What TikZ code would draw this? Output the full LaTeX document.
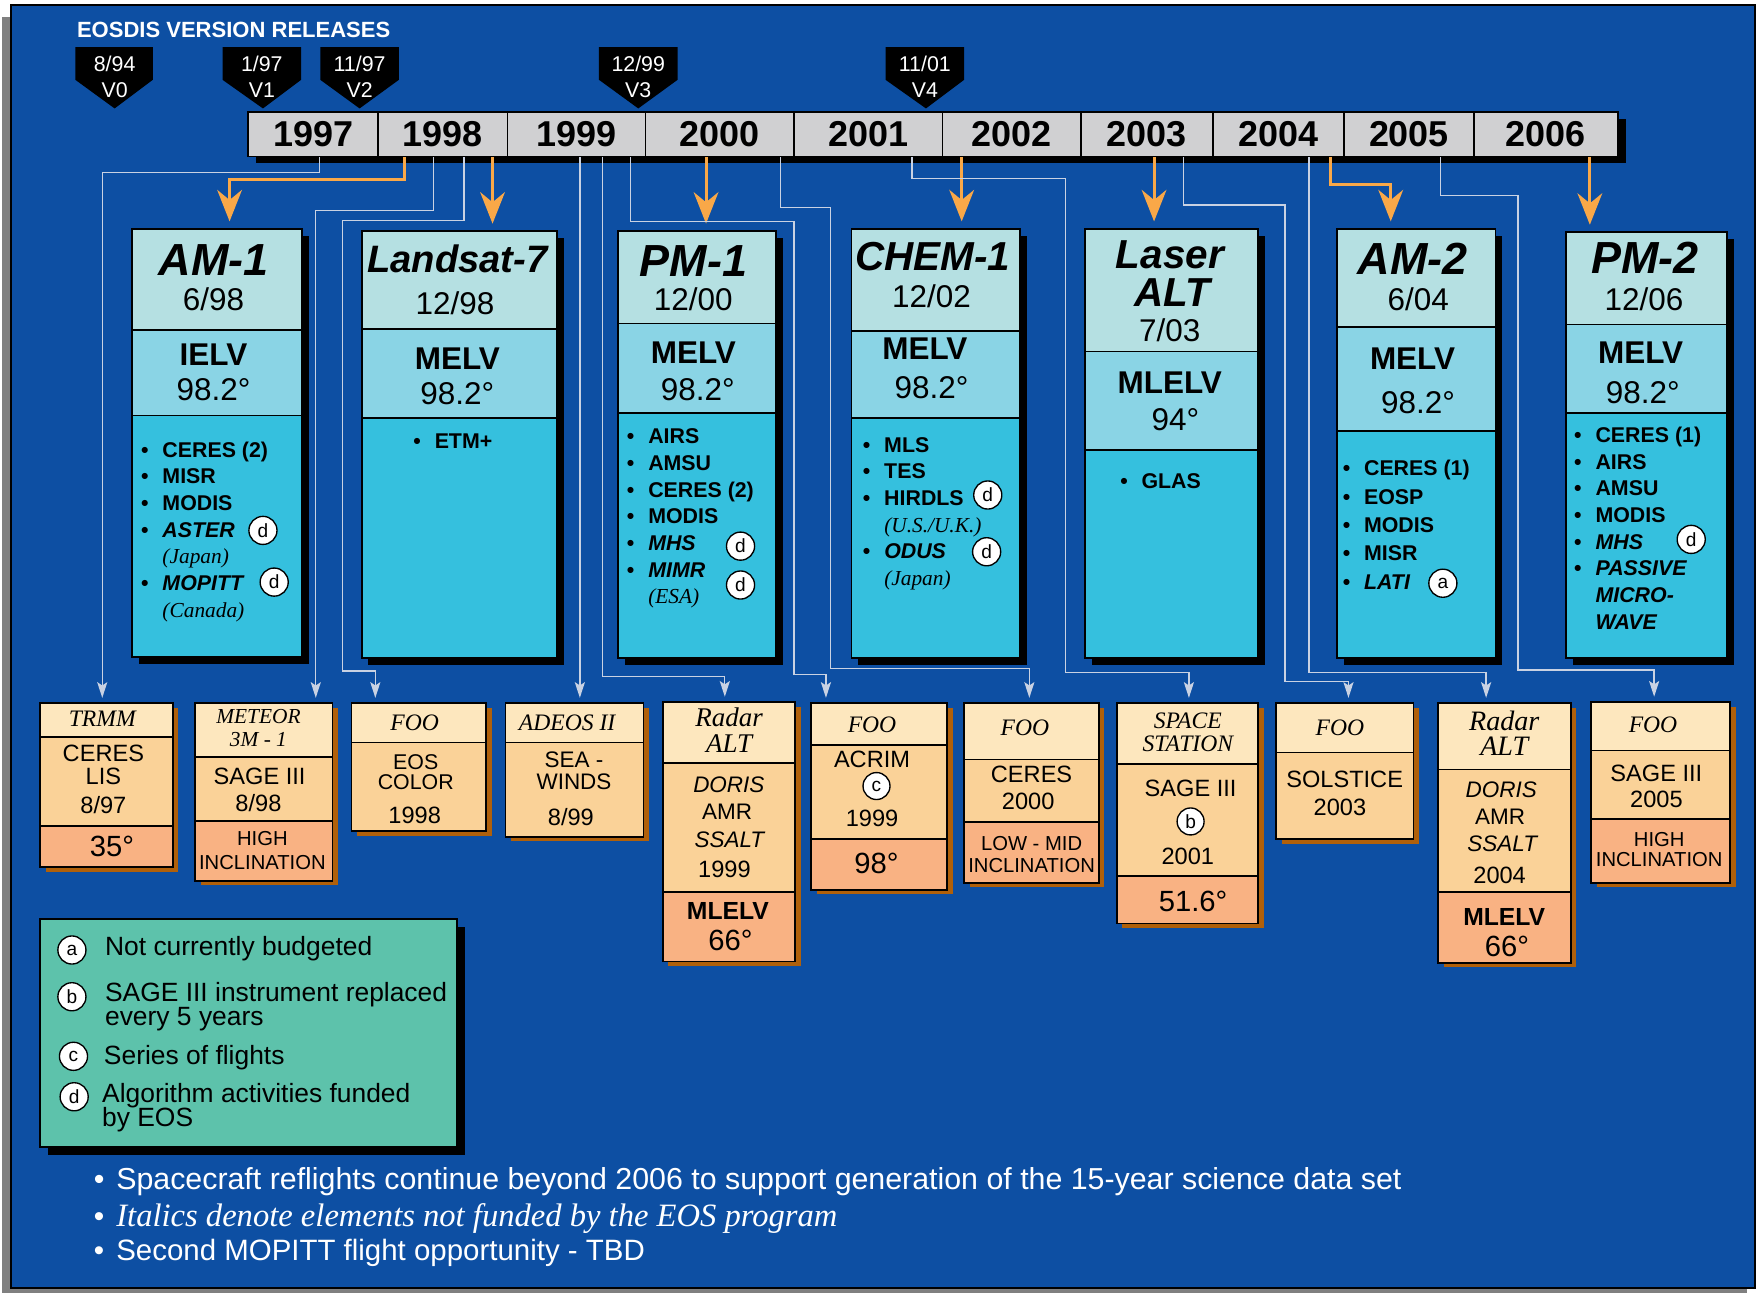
\documentclass[tikz,border=0pt]{standalone}
\usepackage{fontspec}
\setmainfont{Liberation Sans}
\newfontfamily\tms{Liberation Serif}
\usepackage{tikz}
\usetikzlibrary{arrows.meta, shadows}

\definecolor{bgblue}{RGB}{13,79,163}
\definecolor{bargrey}{RGB}{208,208,210}
\definecolor{sattop}{RGB}{181,224,226}
\definecolor{satmid}{RGB}{138,212,229}
\definecolor{satlow}{RGB}{53,192,222}
\definecolor{pltop}{RGB}{253,231,190}
\definecolor{plmid}{RGB}{250,210,152}
\definecolor{pllow}{RGB}{249,178,131}
\definecolor{plshade}{RGB}{176,96,10}
\definecolor{legfill}{RGB}{93,194,171}
\definecolor{orng}{RGB}{249,168,72}
\definecolor{feedline}{RGB}{201,210,227}
\definecolor{framegrey}{RGB}{128,128,128}

\newcommand{\fsz}[2]{\fontsize{#1}{#2}\selectfont}
\newcommand{\bitem}{\makebox[19pt][l]{\textbullet}}
\newcommand{\bskip}{\hspace*{19pt}}

\begin{document}
\begin{tikzpicture}[x=1pt, y=-1pt,
    yearcell/.style={draw, line width=1.5pt, fill=bargrey, anchor=north west, minimum height=39.5pt, inner sep=0pt, font=\bfseries\fsz{32}{32}, drop shadow={shadow xshift=7pt, shadow yshift=-6pt, fill=black, opacity=1}},
    release/.style={text=white, align=center, font=\fsz{19}{23}},
    satsec/.style={draw, line width=1.6pt, anchor=north west, inner sep=0pt, drop shadow={shadow xshift=6pt, shadow yshift=-6pt, fill=black, opacity=1}},
    sattitle/.style={font=\bfseries\itshape\fsz{40}{40}},
    satdate/.style={font=\fsz{28}{28}},
    satlv/.style={font=\bfseries\fsz{28}{28}},
    instr/.style={anchor=north west, align=left, inner sep=0pt, font=\bfseries\fsz{19}{23.7}},
    plsec/.style={draw, line width=1.5pt, anchor=north west, inner sep=0pt, drop shadow={shadow xshift=5pt, shadow yshift=-4pt, fill=plshade, opacity=1}},
    pltitle/.style={font=\tms\itshape\fsz{21}{21}},
    pltext/.style={font=\fsz{21}{21}},
    plsmall/.style={font=\fsz{18}{18}},
    pldeg/.style={font=\fsz{26}{26}},
    note/.style={circle, draw, fill=white, line width=1.2pt, minimum size=25pt, inner sep=0pt, font=\fsz{17}{17}},
    launch/.style={draw=orng, line width=2.7pt, -{Stealth[length=28pt, width=22pt, inset=9pt]}, shorten >=6pt},
    feed/.style={draw=feedline, line width=1.2pt, -{Stealth[length=14pt, width=9pt, inset=3pt]}, shorten >=4pt},
    legtext/.style={anchor=west, align=left, font=\fsz{23.5}{22}},
    remark/.style={anchor=west, text=white, font=\fsz{26.5}{26.5}}]

    \useasboundingbox (0,0) rectangle (1568,1151);
    \fill[framegrey] (2,15) rectangle (1555,1151);
    \draw[fill=bgblue, line width=1.5pt] (10,4.5) rectangle (1562,1146);

    \node[anchor=west, text=white, font=\bfseries\fsz{19.6}{19.6}] (head) at (65,27) {EOSDIS VERSION RELEASES};

    \fill (67,42) -- (136,42) -- (136,71) -- (102,96.5) -- (67,71) -- cycle;
    \fill (198,42) -- (268,42) -- (268,71) -- (234,96.5) -- (198,71) -- cycle;
    \fill (285,42) -- (355,42) -- (355,71) -- (320,96.5) -- (285,71) -- cycle;
    \fill (533,42) -- (603,42) -- (603,71) -- (568,96.5) -- (533,71) -- cycle;
    \fill (788,42) -- (858,42) -- (858,71) -- (824,96.5) -- (788,71) -- cycle;
    \node[release] (rel0) at (102,68.5) {8/94\\V0};
    \node[release] (rel1) at (233,68.5) {1/97\\V1};
    \node[release] (rel2) at (320,68.5) {11/97\\V2};
    \node[release] (rel3) at (568,68.5) {12/99\\V3};
    \node[release] (rel4) at (823,68.5) {11/01\\V4};

    \node[yearcell, minimum width=115.6pt] (y1997) at (220,99) {1997};
    \node[yearcell, minimum width=115.4pt] (y1998) at (335.6,99) {1998};
    \node[yearcell, minimum width=122.7pt] (y1999) at (451,99) {1999};
    \node[yearcell, minimum width=132.3pt] (y2000) at (573.7,99) {2000};
    \node[yearcell, minimum width=132pt] (y2001) at (706,99) {2001};
    \node[yearcell, minimum width=123pt] (y2002) at (838,99) {2002};
    \node[yearcell, minimum width=117.4pt] (y2003) at (961,99) {2003};
    \node[yearcell, minimum width=116.6pt] (y2004) at (1078.4,99) {2004};
    \node[yearcell, minimum width=116.2pt] (y2005) at (1195,99) {2005};
    \node[yearcell, minimum width=127.6pt] (y2006) at (1311.2,99) {2006};

    \node[satsec, fill=sattop, minimum width=151pt, minimum height=90pt] (am1) at (117,203) {};
    \node[satsec, fill=satmid, minimum width=151pt, minimum height=76pt] (am1lv) at (117,293) {};
    \node[satsec, fill=satlow, minimum width=151pt, minimum height=215pt] (am1in) at (117,369) {};
    \node[sattitle] (am1name) at (190,231) {AM-1};
    \node[satdate] (am1date) at (190,266) {6/98};
    \node[satlv] (am1rkt) at (190,316) {IELV};
    \node[satdate] (am1inc) at (190,347) {98.2°};
    \node[instr] (am1list) at (125.4,393) {\bitem CERES (2)\\ \bitem MISR\\ \bitem MODIS\\ \bitem\textit{ASTER}\\ \bskip{\tms\mdseries\itshape (Japan)}\\ \bitem\textit{MOPITT}\\ \bskip{\tms\mdseries\itshape (Canada)}};
    \node[note] (am1d1) at (234,472) {d};
    \node[note] (am1d2) at (244,518) {d};

    \node[satsec, fill=sattop, minimum width=174pt, minimum height=87pt] (ls7) at (321,205) {};
    \node[satsec, fill=satmid, minimum width=174pt, minimum height=79pt] (ls7lv) at (321,292) {};
    \node[satsec, fill=satlow, minimum width=174pt, minimum height=214pt] (ls7in) at (321,371) {};
    \node[sattitle, font=\bfseries\itshape\fsz{34}{34}] (ls7name) at (407,230) {Landsat-7};
    \node[satdate] (ls7date) at (405,270) {12/98};
    \node[satlv] (ls7rkt) at (407,319) {MELV};
    \node[satdate] (ls7inc) at (407,350) {98.2°};
    \node[instr] (ls7list) at (367.7,386) {\bitem ETM+};

    \node[satsec, fill=sattop, minimum width=141pt, minimum height=82pt] (pm1) at (549,205) {};
    \node[satsec, fill=satmid, minimum width=141pt, minimum height=80pt] (pm1lv) at (549,287) {};
    \node[satsec, fill=satlow, minimum width=141pt, minimum height=218pt] (pm1in) at (549,367) {};
    \node[sattitle] (pm1name) at (617,232) {PM-1};
    \node[satdate] (pm1date) at (617,266) {12/00};
    \node[satlv] (pm1rkt) at (617,314) {MELV};
    \node[satdate] (pm1inc) at (621,347) {98.2°};
    \node[instr] (pm1list) at (557.7,381.5) {\bitem AIRS\\ \bitem AMSU\\ \bitem CERES (2)\\ \bitem MODIS\\ \bitem\textit{MHS}\\ \bitem\textit{MIMR}\\ \bskip{\tms\mdseries\itshape (ESA)}};
    \node[note] (pm1d1) at (659,486) {d};
    \node[note] (pm1d2) at (659,520.6) {d};

    \node[satsec, fill=sattop, minimum width=150pt, minimum height=91pt] (chem) at (757,203) {};
    \node[satsec, fill=satmid, minimum width=150pt, minimum height=77pt] (chemlv) at (757,294) {};
    \node[satsec, fill=satlow, minimum width=150pt, minimum height=214pt] (chemin) at (757,371) {};
    \node[sattitle, font=\bfseries\itshape\fsz{36}{36}] (chemname) at (830,228.5) {CHEM-1};
    \node[satdate] (chemdate) at (829,264) {12/02};
    \node[satlv] (chemrkt) at (823,310) {MELV};
    \node[satdate] (cheminc) at (829,345) {98.2°};
    \node[instr] (chemlist) at (767.7,389) {\bitem MLS\\ \bitem TES\\ \bitem HIRDLS\\ \bskip{\tms\mdseries\itshape (U.S./U.K.)}\\ \bitem\textit{ODUS}\\ \bskip{\tms\mdseries\itshape (Japan)}};
    \node[note] (chemd1) at (879,440.5) {d};
    \node[note] (chemd2) at (878,491) {d};

    \node[satsec, fill=sattop, minimum width=154pt, minimum height=109pt] (laser) at (965,203) {};
    \node[satsec, fill=satmid, minimum width=154pt, minimum height=88pt] (laserlv) at (965,312) {};
    \node[satsec, fill=satlow, minimum width=154pt, minimum height=185pt] (laserin) at (965,400) {};
    \node[sattitle, font=\bfseries\itshape\fsz{36}{36}] (lasername) at (1041,227) {Laser};
    \node[sattitle, font=\bfseries\itshape\fsz{36}{36}] (laseralt) at (1043,260) {ALT};
    \node[satdate] (laserdate) at (1041,293.7) {7/03};
    \node[satlv] (laserrkt) at (1041,340.5) {MLELV};
    \node[satdate] (laserinc) at (1046,373.5) {94°};
    \node[instr] (laserlist) at (996.7,421) {\bitem GLAS};

    \node[satsec, fill=sattop, minimum width=141pt, minimum height=87pt] (am2) at (1189,203) {};
    \node[satsec, fill=satmid, minimum width=141pt, minimum height=93pt] (am2lv) at (1189,290) {};
    \node[satsec, fill=satlow, minimum width=141pt, minimum height=202pt] (am2in) at (1189,383) {};
    \node[sattitle] (am2name) at (1257,230) {AM-2};
    \node[satdate] (am2date) at (1262,266) {6/04};
    \node[satlv] (am2rkt) at (1257,319) {MELV};
    \node[satdate] (am2inc) at (1262,358.6) {98.2°};
    \node[instr, font=\bfseries\fsz{19}{25.2}] (am2list) at (1194.7,409.6) {\bitem CERES (1)\\ \bitem EOSP\\ \bitem MODIS\\ \bitem MISR\\ \bitem\textit{LATI}};
    \node[note] (am2a) at (1284,519) {a};

    \node[satsec, fill=sattop, minimum width=143pt, minimum height=82pt] (pm2) at (1393,206) {};
    \node[satsec, fill=satmid, minimum width=143pt, minimum height=79pt] (pm2lv) at (1393,288) {};
    \node[satsec, fill=satlow, minimum width=143pt, minimum height=218pt] (pm2in) at (1393,367) {};
    \node[sattitle] (pm2name) at (1464,229.6) {PM-2};
    \node[satdate] (pm2date) at (1463,266) {12/06};
    \node[satlv] (pm2rkt) at (1460,314) {MELV};
    \node[satdate] (pm2inc) at (1462,349) {98.2°};
    \node[instr] (pm2list) at (1400.7,380) {\bitem CERES (1)\\ \bitem AIRS\\ \bitem AMSU\\ \bitem MODIS\\ \bitem\textit{MHS}\\ \bitem\textit{PASSIVE}\\ \bskip\textit{MICRO-}\\ \bskip\textit{WAVE}};
    \node[note] (pm2d) at (1505,480) {d};

    \node[plsec, fill=pltop, minimum width=118pt, minimum height=30pt] (trmm) at (35,625) {};
    \node[plsec, fill=plmid, minimum width=118pt, minimum height=79pt] (trmmmid) at (35,655) {};
    \node[plsec, fill=pllow, minimum width=118pt, minimum height=37pt] (trmmlow) at (35,734) {};
    \node[pltitle] (trmmname) at (91,640) {TRMM};
    \node[pltext] (trmm1) at (92,670) {CERES};
    \node[pltext] (trmm2) at (92,690.6) {LIS};
    \node[pltext] (trmm3) at (92,716.4) {8/97};
    \node[pldeg] (trmm4) at (99.6,753.5) {35°};

    \node[plsec, fill=pltop, minimum width=122pt, minimum height=48pt] (met) at (173,625) {};
    \node[plsec, fill=plmid, minimum width=122pt, minimum height=57pt] (metmid) at (173,673) {};
    \node[plsec, fill=pllow, minimum width=122pt, minimum height=53pt] (metlow) at (173,730) {};
    \node[pltitle, font=\tms\itshape\fsz{19}{19}] (metname) at (230,637.8) {METEOR};
    \node[pltitle, font=\tms\itshape\fsz{19}{19}] (metname2) at (230,658) {3M - 1};
    \node[pltext] (met1) at (231,691) {SAGE III};
    \node[pltext] (met2) at (230,715) {8/98};
    \node[plsmall] (met3) at (233.5,746) {HIGH};
    \node[plsmall] (met4) at (233.5,767.7) {INCLINATION};

    \node[plsec, fill=pltop, minimum width=120pt, minimum height=35pt] (eos) at (312,625) {};
    \node[plsec, fill=plmid, minimum width=120pt, minimum height=79pt] (eosmid) at (312,660) {};
    \node[pltitle] (eosname) at (369,643) {FOO};
    \node[pltext, font=\fsz{19}{19}] (eos1) at (370,678) {EOS};
    \node[pltext, font=\fsz{19}{19}] (eos2) at (370,695.6) {COLOR};
    \node[pltext] (eos3) at (369,725.3) {1998};

    \node[plsec, fill=pltop, minimum width=123pt, minimum height=35pt] (adeos) at (449,625) {};
    \node[plsec, fill=plmid, minimum width=123pt, minimum height=84pt] (adeosmid) at (449,660) {};
    \node[pltitle] (adeosname) at (504.7,643) {ADEOS II};
    \node[pltext, font=\fsz{20}{20}] (adeos1) at (510.8,676.3) {SEA -};
    \node[pltext, font=\fsz{20}{20}] (adeos2) at (510.8,695.6) {WINDS};
    \node[pltext] (adeos3) at (508,726.8) {8/99};

    \node[plsec, fill=pltop, minimum width=118pt, minimum height=54pt] (rad1) at (589,624) {};
    \node[plsec, fill=plmid, minimum width=118pt, minimum height=115pt] (rad1mid) at (589,678) {};
    \node[plsec, fill=pllow, minimum width=118pt, minimum height=62pt] (rad1low) at (589,793) {};
    \node[pltitle, font=\tms\itshape\fsz{24}{24}] (rad1name) at (648.8,638.5) {Radar};
    \node[pltitle, font=\tms\itshape\fsz{24}{24}] (rad1name2) at (648.8,662) {ALT};
    \node[pltext, font=\itshape\fsz{20}{20}] (rad1a) at (648.6,698.6) {DORIS};
    \node[pltext, font=\fsz{20}{20}] (rad1b) at (647,722.3) {AMR};
    \node[pltext, font=\itshape\fsz{20}{20}] (rad1c) at (649,747) {SSALT};
    \node[pltext] (rad1d) at (644.7,773.4) {1999};
    \node[pltext, font=\bfseries\fsz{22}{22}] (rad1e) at (647.8,810.4) {MLELV};
    \node[pldeg] (rad1f) at (650,836.5) {66°};

    \node[plsec, fill=pltop, minimum width=121pt, minimum height=37pt] (acrim) at (721,625) {};
    \node[plsec, fill=plmid, minimum width=121pt, minimum height=84pt] (acrimmid) at (721,662) {};
    \node[plsec, fill=pllow, minimum width=121pt, minimum height=45pt] (acrimlow) at (721,746) {};
    \node[pltitle] (acrimname) at (776,645) {FOO};
    \node[pltext] (acrim1) at (776,676) {ACRIM};
    \node[note, minimum size=24pt] (acrimc) at (780,699.5) {c};
    \node[pltext] (acrim2) at (776,728) {1999};
    \node[pldeg] (acrim3) at (780,768) {98°};

    \node[plsec, fill=pltop, minimum width=120pt, minimum height=50pt] (cer) at (857,625) {};
    \node[plsec, fill=plmid, minimum width=120pt, minimum height=56pt] (cermid) at (857,675) {};
    \node[plsec, fill=pllow, minimum width=120pt, minimum height=54pt] (cerlow) at (857,731) {};
    \node[pltitle] (cername) at (912,648) {FOO};
    \node[pltext] (cer1) at (918,688.8) {CERES};
    \node[pltext] (cer2) at (915,713.4) {2000};
    \node[plsmall] (cer3) at (918,750.5) {LOW - MID};
    \node[plsmall] (cer4) at (918,770.4) {INCLINATION};

    \node[plsec, fill=pltop, minimum width=126pt, minimum height=54pt] (iss) at (993,625) {};
    \node[plsec, fill=plmid, minimum width=126pt, minimum height=100pt] (issmid) at (993,679) {};
    \node[plsec, fill=pllow, minimum width=126pt, minimum height=42pt] (isslow) at (993,779) {};
    \node[pltitle] (issname) at (1057,641) {SPACE};
    \node[pltitle] (issname2) at (1057,661.6) {STATION};
    \node[pltext] (iss1) at (1059.5,702) {SAGE III};
    \node[note, minimum size=24pt] (issb) at (1059.5,731) {b};
    \node[pltext] (iss2) at (1057,762.4) {2001};
    \node[pldeg] (iss3) at (1061.7,802.4) {51.6°};

    \node[plsec, fill=pltop, minimum width=122pt, minimum height=44pt] (sol) at (1135,625) {};
    \node[plsec, fill=plmid, minimum width=122pt, minimum height=77pt] (solmid) at (1135,669) {};
    \node[pltitle] (solname) at (1192.4,648) {FOO};
    \node[pltext] (sol1) at (1196.6,694) {SOLSTICE};
    \node[pltext] (sol2) at (1192.4,718.5) {2003};

    \node[plsec, fill=pltop, minimum width=118pt, minimum height=59pt] (rad2) at (1279,625) {};
    \node[plsec, fill=plmid, minimum width=118pt, minimum height=109pt] (rad2mid) at (1279,684) {};
    \node[plsec, fill=pllow, minimum width=118pt, minimum height=63pt] (rad2low) at (1279,793) {};
    \node[pltitle, font=\tms\itshape\fsz{25}{25}] (rad2name) at (1338.6,641.5) {Radar};
    \node[pltitle, font=\tms\itshape\fsz{25}{25}] (rad2name2) at (1338.6,664) {ALT};
    \node[pltext, font=\itshape\fsz{20}{20}] (rad2a) at (1336,703) {DORIS};
    \node[pltext, font=\fsz{20}{20}] (rad2b) at (1335,726.8) {AMR};
    \node[pltext, font=\itshape\fsz{20}{20}] (rad2c) at (1336.8,750.5) {SSALT};
    \node[pltext] (rad2d) at (1334.5,778.7) {2004};
    \node[pltext, font=\bfseries\fsz{22}{22}] (rad2e) at (1338.6,816) {MLELV};
    \node[pldeg] (rad2f) at (1341,842) {66°};

    \node[plsec, fill=pltop, minimum width=124pt, minimum height=43pt] (foo5) at (1415,624) {};
    \node[plsec, fill=plmid, minimum width=124pt, minimum height=61pt] (foo5mid) at (1415,667) {};
    \node[plsec, fill=pllow, minimum width=124pt, minimum height=57pt] (foo5low) at (1415,728) {};
    \node[pltitle] (foo5name) at (1471,645) {FOO};
    \node[pltext] (foo51) at (1474,688) {SAGE III};
    \node[pltext] (foo52) at (1474,711) {2005};
    \node[plsmall] (foo53) at (1476.5,746.7) {HIGH};
    \node[plsmall] (foo54) at (1476.5,765) {INCLINATION};

    \draw[launch] (360,0 |- y1998.south) |- (204.3,160) -- (204.3,0 |- am1.north);
    \draw[launch] (438.3,0 |- y1998.south) -- (438.3,0 |- ls7.north);
    \draw[launch] (628.3,0 |- y2000.south) -- (628.3,0 |- pm1.north);
    \draw[launch] (855.8,0 |- y2002.south) -- (855.8,0 |- chem.north);
    \draw[launch] (1027,0 |- y2003.south) -- (1027,0 |- laser.north);
    \draw[launch] (1183.6,0 |- y2004.south) |- (1237.6,164.6) -- (1237.6,0 |- am2.north);
    \draw[launch] (1414.8,0 |- y2006.south) -- (1414.8,0 |- pm2.north);

    \draw[feed] (284.5,0 |- y1997.south) |- (91,153.7) -- (91,0 |- trmm.north);
    \draw[feed] (385.7,0 |- y1998.south) |- (281,187.5) -- (281,0 |- met.north);
    \draw[feed] (412.8,0 |- y1998.south) |- (305,196) |- (334,597) -- (334,0 |- eos.north);
    \draw[feed] (516,0 |- y1999.south) -- (516,0 |- adeos.north);
    \draw[feed] (536.4,0 |- y1999.south) |- (645,602) -- (645,0 |- rad1.north);
    \draw[feed] (561,0 |- y1999.south) |- (706.5,197.3) |- (735,600.4) -- (735,0 |- acrim.north);
    \draw[feed] (694.8,0 |- y2000.south) |- (739,184.5) |- (916,594.8) -- (916,0 |- cer.north);
    \draw[feed] (811.6,0 |- y2001.south) |- (948,158.7) |- (1058,598.3) -- (1058,0 |- iss.north);
    \draw[feed] (1053.4,0 |- y2003.south) |- (1143.6,182.4) |- (1200,606.6) -- (1200,0 |- sol.north);
    \draw[feed] (1165,0 |- y2004.south) |- (1322.5,598.6) -- (1322.5,0 |- rad2.north);
    \draw[feed] (1282,0 |- y2005.south) |- (1351,174) |- (1472,596.3) -- (1472,0 |- foo5.north);

    \node[draw, line width=1.5pt, fill=legfill, anchor=north west, minimum width=371pt, minimum height=203pt, drop shadow={shadow xshift=7pt, shadow yshift=-7pt, fill=black, opacity=1}] (legend) at (35,817) {};
    \node[note] (lega) at (64,845.4) {a};
    \node[note] (legb) at (64,887) {b};
    \node[note] (legc) at (65.4,940) {c};
    \node[note] (legd) at (66,976) {d};
    \node[legtext] (legta) at (90,843.8) {Not currently budgeted};
    \node[legtext] (legtb) at (90,895.8) {SAGE III instrument replaced\\every 5 years};
    \node[legtext] (legtc) at (89,941) {Series of flights};
    \node[legtext] (legtd) at (87.4,985.7) {Algorithm activities funded\\by EOS};

    \node[remark, font=\fsz{27}{27}] (rem1) at (80,1051.6) {\makebox[20pt][l]{\textbullet}Spacecraft reflights continue beyond 2006 to support generation of the 15-year science data set};
    \node[remark] (rem2) at (80,1084) {\makebox[20pt][l]{\textbullet}{\tms\itshape\fsz{29}{29}Italics denote elements not funded by the EOS program}};
    \node[remark, font=\fsz{26.2}{26.2}] (rem3) at (80,1115) {\makebox[20pt][l]{\textbullet}Second MOPITT flight opportunity - TBD};
\end{tikzpicture}
\end{document}
